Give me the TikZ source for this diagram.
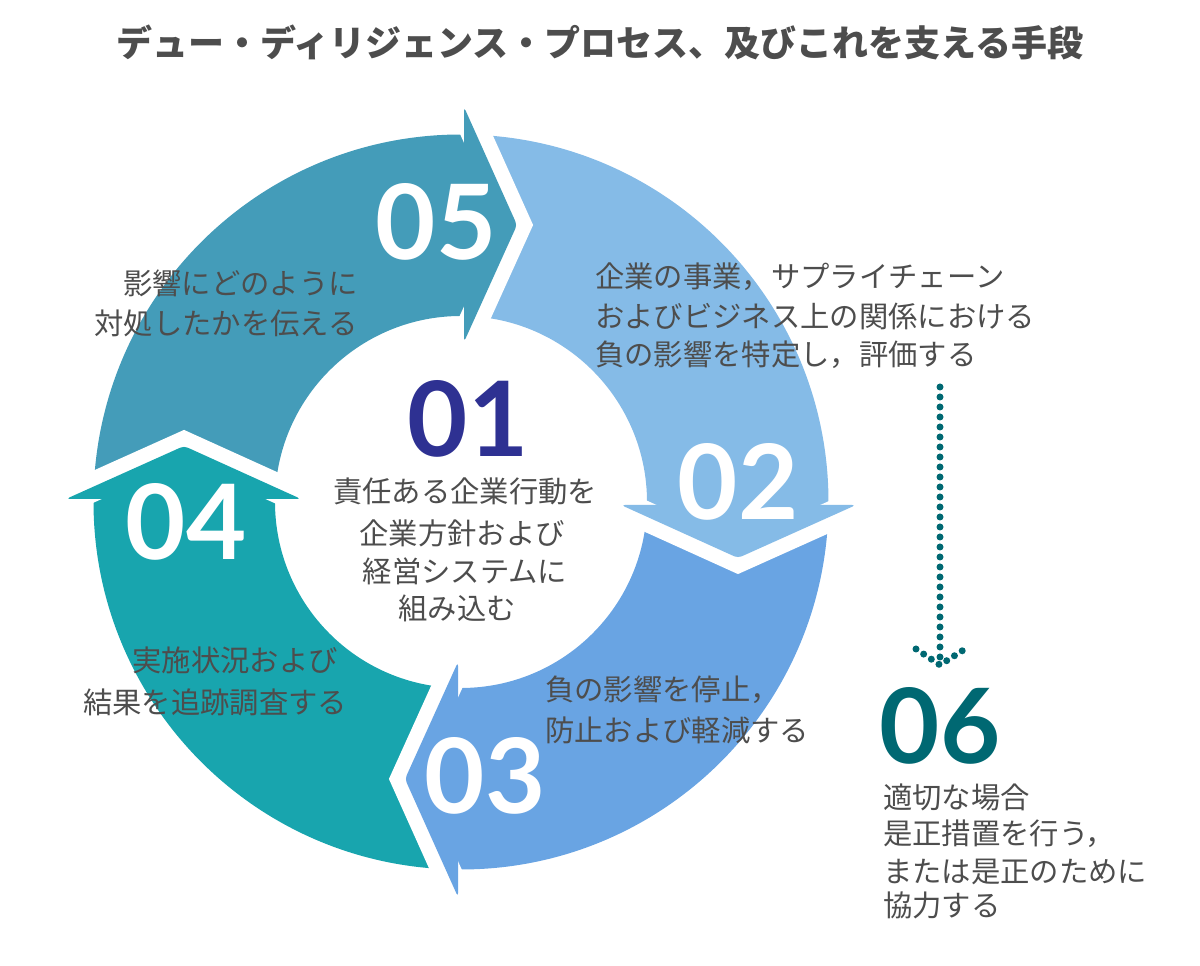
\documentclass[tikz,border=0pt]{standalone}
\usepackage{fontspec}
\setmainfont{Lato}
\newfontfamily\jp{Noto Sans CJK JP}
\usetikzlibrary{calc}
\definecolor{cfive}{HTML}{449CB9}
\definecolor{ctwo}{HTML}{85BBE7}
\definecolor{cthree}{HTML}{69A4E3}
\definecolor{cfour}{HTML}{18A5AE}
\definecolor{cone}{HTML}{2E3192}
\definecolor{csix}{HTML}{006872}
\definecolor{tgray}{HTML}{4D4D4D}
\begin{document}
\begin{tikzpicture}[x=0.75pt,y=0.75pt,
  txt/.style={font=\jp\fontsize{22}{26}\selectfont, text=tgray, inner sep=0pt},
  num/.style={font=\fontsize{78}{80}\selectfont\bfseries, text=white, inner sep=0pt},
  ttl/.style={font=\jp\bfseries\fontsize{27}{30}\selectfont, text=tgray, inner sep=0pt},
  dotline/.style={draw=csix, line width=5.25pt, line cap=round, dash pattern=on 0pt off 7.5pt}]
\useasboundingbox (0,0) rectangle (1200,966);
\coordinate (C) at (461,464);
% ring bodies
\foreach \a/\col in {90/cfive, 0/ctwo, -90/cthree, -180/cfour}{
  \fill[\col] ($(C)+(\a+88.5:367.5)$) arc[start angle=\a+88.5, end angle=\a-1.5, radius=367.5]
    -- ($(C)+(\a-1.5:186)$) arc[start angle=\a-1.5, end angle=\a+88.5, radius=186] -- cycle;
}
% arrow heads
\foreach \a/\col in {90/cfive, 0/ctwo, -90/cthree, -180/cfour}{
  \coordinate (B1) at ($(C)+(\a:395)+(\a-90:3)$);
  \coordinate (T) at ($(C)+(\a:277)+(\a-90:56)$);
  \coordinate (B2) at ($(C)+(\a:160)+(\a-90:3)$);
  \draw[white, line width=22pt, line join=miter] (B1) -- (T) -- (B2);
  \fill[\col, rounded corners=3pt] (B1) -- (T) -- (B2) -- cycle;
}
% title
\node[ttl] (title) at (600,924) {デュー・ディリジェンス・プロセス、及びこれを支える手段};
% numbers
\node[num] (n05) at (436,744) {05};
\node[num] (n02) at (738,484) {02};
\node[num] (n03) at (485,190) {03};
\node[num] (n04) at (186,444) {04};
\node[num, text=cone] (n01) at (468,547) {01};
\node[num, text=csix] (n06) at (940,240) {06};
% texts
\node[txt, anchor=east] (t5a) at (358,683) {影響にどのように};
\node[txt, anchor=east] (t5b) at (358,643) {対処したかを伝える};
\node[txt, anchor=west] (t2a) at (595,689) {企業の事業，サプライチェーン};
\node[txt, anchor=west] (t2b) at (595,650) {およびビジネス上の関係における};
\node[txt, anchor=west] (t2c) at (595,611) {負の影響を特定し，評価する};
\node[txt] (t1a) at (465,475) {責任ある企業行動を};
\node[txt] (t1b) at (462,433) {企業方針および};
\node[txt] (t1c) at (465,395) {経営システムに};
\node[txt] (t1d) at (457,358) {組み込む};
\node[txt] (t4a) at (235,306) {実施状況および};
\node[txt] (t4b) at (215,264) {結果を追跡調査する};
\node[txt, anchor=west] (t3a) at (545,276) {負の影響を停止，};
\node[txt, anchor=west] (t3b) at (545,236) {防止および軽減する};
\node[txt, anchor=west] (t6a) at (883,169) {適切な場合};
\node[txt, anchor=west] (t6b) at (883,132) {是正措置を行う，};
\node[txt, anchor=west] (t6c) at (883,94) {または是正のために};
\node[txt, anchor=west] (t6d) at (883,61) {協力する};
% dotted arrow
\coordinate (d1) at (940,579);
\coordinate (d2) at (940,301);
\coordinate (dl) at (916,317);
\coordinate (dr) at (965,317);
\draw[dotline] (d1) -- (d2);
\draw[dotline, dash pattern=on 0pt off 6.9pt] (dl) -- (d2) -- (dr);
\end{tikzpicture}
\end{document}
